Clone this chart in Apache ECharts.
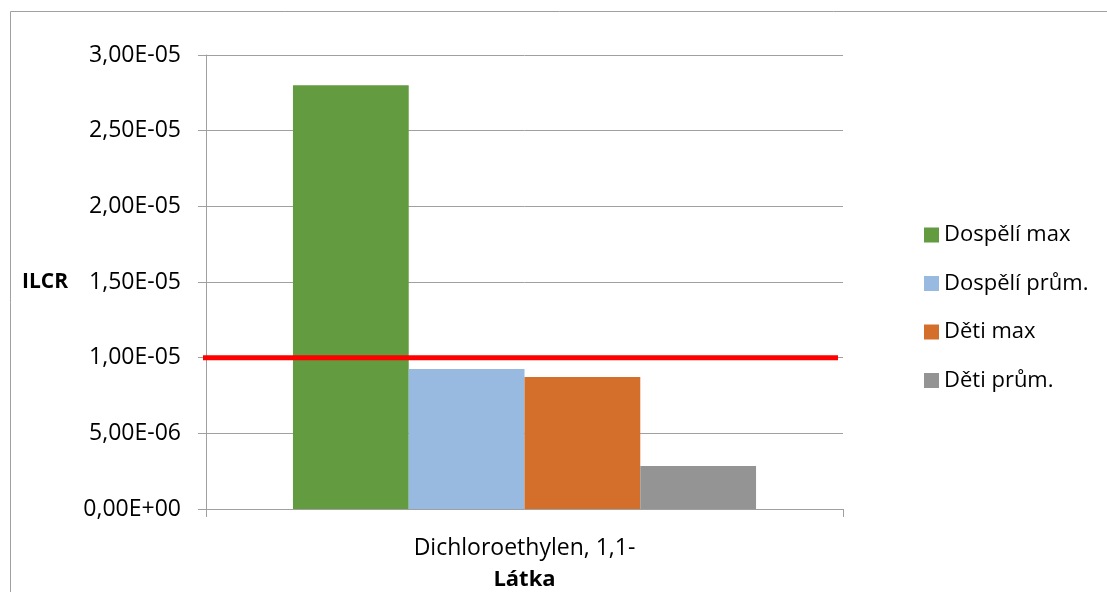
<!DOCTYPE html>
<html>
<head>
<meta charset="utf-8">
<script src="https://cdn.jsdelivr.net/npm/echarts@6/dist/echarts.min.js"></script>
<style>
  html, body { margin: 0; padding: 0; background: #fff; }
  #chart { width: 1107px; height: 592px; }
</style>
</head>
<body>
<div id="chart"></div>
<script>
// Data
const categories = ['Dichloroethylen, 1,1-'];
const seriesNames = ['Dospělí max', 'Dospělí prům.', 'Děti max', 'Děti prům.'];
const dospeliMax = [2.80e-5];
const dospeliPrum = [9.25e-6];
const detiMax = [8.72e-6];
const detiPrum = [2.84e-6];
const limitValue = 1.0e-5;          // acceptable risk level
const yTicks = { min: 0, max: 3.0e-5, interval: 5.0e-6 };

const seriesValues = [dospeliMax, dospeliPrum, detiMax, detiPrum];
const colors = ['#639b40', '#98b9e0', '#d46f2b', '#949494'];
const FONT = 'Open Sans';

// Scientific notation with a decimal comma, e.g. 2,50E-05
function sciComma(v) {
  const s = Number(v).toExponential(2);
  const [mant, exp] = s.split('e');
  const e = parseInt(exp, 10);
  const sign = e < 0 ? '-' : '+';
  const digits = String(Math.abs(e)).padStart(2, '0');
  return mant.replace('.', ',') + 'E' + sign + digits;
}

const chart = echarts.init(document.getElementById('chart'), null, { renderer: 'canvas' });

const series = seriesNames.map((name, i) => ({
  name: name,
  type: 'bar',
  data: seriesValues[i],
  xAxisIndex: 0,
  barGap: '0%',
  barCategoryGap: '27.3%',
  itemStyle: { color: colors[i] },
  emphasis: { disabled: true },
  z: 2
}));

// Horizontal threshold line drawn across the plot on a hidden 0..1 axis
series.push({
  name: 'limit',
  type: 'line',
  xAxisIndex: 1,
  yAxisIndex: 0,
  data: [[0, limitValue], [1, limitValue]],
  symbol: 'none',
  clip: false,
  silent: true,
  lineStyle: { color: '#ff0000', width: 5, type: 'solid', cap: 'butt' },
  emphasis: { disabled: true },
  z: 5
});

chart.setOption({
  animation: false,
  textStyle: { fontFamily: FONT },
  graphic: [{
    type: 'rect',
    shape: { x: 10.5, y: 11.5, width: 1200, height: 700 },
    style: { fill: 'none', stroke: '#a0a0a0', lineWidth: 1 },
    silent: true
  }],
  grid: {
    left: 206, right: 264, top: 55, bottom: 83,
    containLabel: false,
    outerBoundsMode: 'none'
  },
  legend: {
    orient: 'vertical',
    left: 919,
    top: 219,
    icon: 'rect',
    itemWidth: 15,
    itemHeight: 15,
    itemGap: 26.5,
    textStyle: { fontFamily: FONT, fontSize: 22, color: '#000' },
    data: seriesNames
  },
  xAxis: [{
    type: 'category',
    data: categories,
    name: 'Látka',
    nameLocation: 'middle',
    nameGap: 60,
    nameTextStyle: { fontFamily: FONT, fontSize: 22, fontWeight: 'bold', color: '#000' },
    axisLine: { show: true, lineStyle: { color: '#a0a0a0', width: 1 } },
    axisTick: { show: true, length: 8, lineStyle: { color: '#a0a0a0' } },
    axisLabel: { fontFamily: FONT, fontSize: 23, color: '#000', margin: 28 }
  }, {
    type: 'value',
    show: false,
    min: 0.00785,
    max: 1.00785,
    splitLine: { show: false }
  }],
  yAxis: {
    type: 'value',
    min: yTicks.min,
    max: yTicks.max,
    interval: yTicks.interval,
    name: 'ILCR',
    nameLocation: 'middle',
    nameRotate: 0,
    nameGap: 138,
    nameTextStyle: { fontFamily: FONT, fontSize: 21, fontWeight: 'bold', color: '#000' },
    axisLine: { show: true, lineStyle: { color: '#a0a0a0', width: 1 } },
    axisTick: { show: true, length: 8, lineStyle: { color: '#a0a0a0' } },
    splitLine: { show: true, lineStyle: { color: '#a0a0a0', width: 1 } },
    axisLabel: { fontFamily: FONT, fontSize: 23, color: '#000', margin: 25, formatter: sciComma }
  },
  series: series
});
</script>
</body>
</html>
